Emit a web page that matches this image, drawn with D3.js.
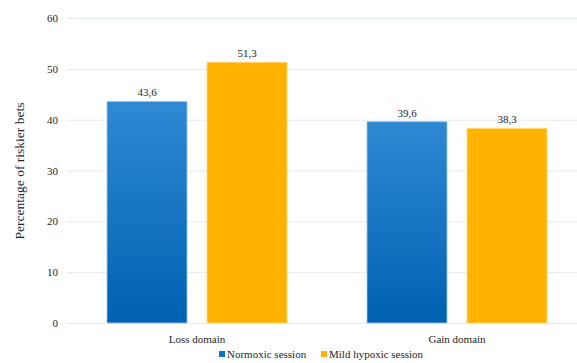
<!DOCTYPE html>
<html><head><meta charset="utf-8">
<script src="https://cdn.jsdelivr.net/npm/d3@7"></script>
<style>body{margin:0;background:#fff}svg{display:block}</style>
</head><body><svg id="c" width="577" height="363"></svg>
<script>
const categories = ["Loss domain", "Gain domain"];
const seriesNames = ["Normoxic session", "Mild hypoxic session"];
const normoxic = [43.6, 39.6];
const hypoxic = [51.3, 38.3];
const yTicks = [0, 10, 20, 30, 40, 50, 60];
const yTitle = "Percentage of riskier bets";

const FONT = "'Liberation Serif', 'Times New Roman', Times, serif";
const svg = d3.select("#c");
const W = 577, H = 363;
const x0 = d3.scaleBand().domain(categories).range([67, 587]);
const x1 = d3.scaleBand().domain(seriesNames).range([0, x0.bandwidth()]).paddingInner(0.2).paddingOuter(0.4);
const y = d3.scaleLinear().domain([0, 60]).range([323, 18]);

const defs = svg.append("defs");
const g = defs.append("linearGradient").attr("id", "blueGrad").attr("x1", 0).attr("y1", 0).attr("x2", 0).attr("y2", 1);
g.append("stop").attr("offset", "0%").attr("stop-color", "#2f89d3");
g.append("stop").attr("offset", "100%").attr("stop-color", "#0061b2");

// grid
svg.append("g").selectAll("line").data(yTicks).join("line")
  .attr("x1", 67).attr("x2", W).attr("y1", d => y(d) + 0.5).attr("y2", d => y(d) + 0.5)
  .attr("stroke", "#e3e9f0").attr("stroke-width", 1);

// y axis
const ya = svg.append("g").attr("transform", "translate(67,0)")
  .call(d3.axisLeft(y).tickValues(yTicks).tickSize(0).tickPadding(9));
ya.select(".domain").remove();
ya.selectAll("text").style("font-size", "11px");

// x axis labels
const xa = svg.append("g").attr("transform", "translate(0,323)")
  .call(d3.axisBottom(x0).tickSize(0).tickPadding(12));
xa.select(".domain").remove();
xa.selectAll("text").style("font-size", "11px");

const data = categories.map((c, i) => ({c, vals: [{s: seriesNames[0], v: normoxic[i]}, {s: seriesNames[1], v: hypoxic[i]}]}));
const fills = {"Normoxic session": "url(#blueGrad)", "Mild hypoxic session": "#ffb300"};
const strokes = {"Normoxic session": "#9cc9ee", "Mild hypoxic session": "#ffd980"};

const grp = svg.append("g").selectAll("g").data(data).join("g")
  .attr("transform", d => `translate(${x0(d.c)},0)`);
grp.selectAll("rect").data(d => d.vals).join("rect")
  .attr("x", d => x1(d.s)).attr("width", x1.bandwidth())
  .attr("y", d => y(d.v)).attr("height", d => y(0) - y(d.v))
  .attr("fill", d => fills[d.s]).attr("stroke", d => strokes[d.s]).attr("stroke-width", 0.8);
grp.selectAll("text.v").data(d => d.vals).join("text").attr("class", "v")
  .attr("x", d => x1(d.s) + x1.bandwidth() / 2).attr("y", d => y(d.v) - 5)
  .attr("text-anchor", "middle").style("font-size", "11px")
  .text(d => d3.format(".1f")(d.v).replace(".", ","));

// y title
svg.append("text").attr("transform", "translate(24,171) rotate(-90)")
  .attr("text-anchor", "middle").style("font-size", "13.5px").text(yTitle);

// legend
const legColors = ["#0b74c8", "#ffb300"];
const legX = [219, 321];
seriesNames.forEach((s, i) => {
  svg.append("rect").attr("x", legX[i]).attr("y", 351).attr("width", 6).attr("height", 6).attr("fill", legColors[i]);
  svg.append("text").attr("x", legX[i] + 8).attr("y", 358).style("font-size", "11px").text(s);
});

svg.selectAll("text").style("font-family", FONT).attr("fill", "#262626");
</script></body></html>
